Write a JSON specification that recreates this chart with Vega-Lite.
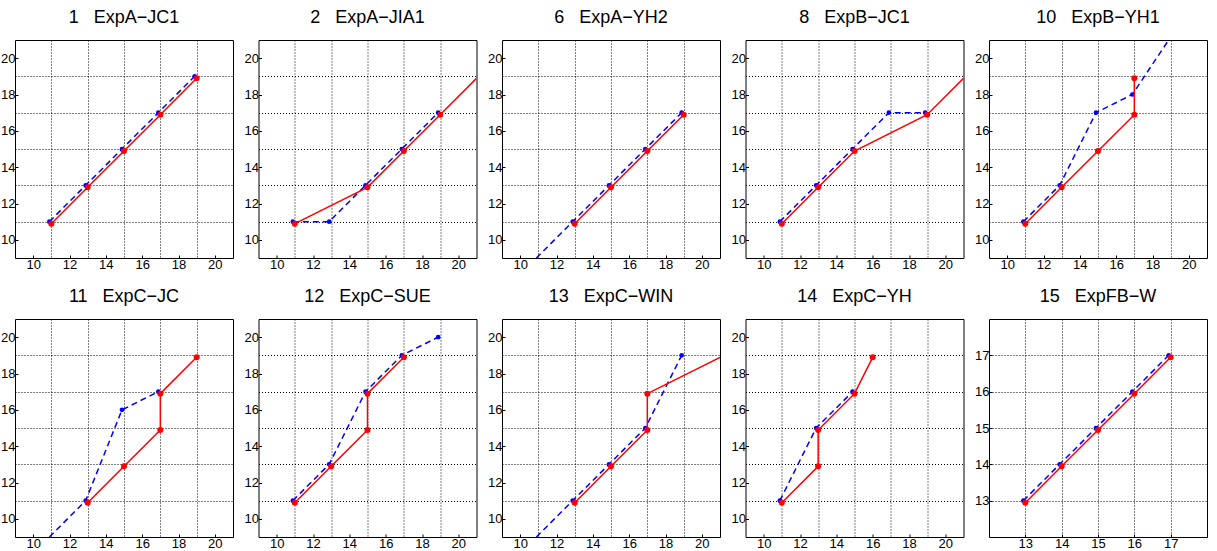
{
"$schema": "https://vega.github.io/schema/vega-lite/v6.json",
"padding": {"left": 0, "top": 8, "right": 0, "bottom": 0},
"background": "white",
"data": {"values": [
{"p":1,"s":"b","o":1,"x":11,"y":11,"m":1},{"p":1,"s":"b","o":2,"x":13,"y":13,"m":1},{"p":1,"s":"b","o":3,"x":15,"y":15,"m":1},{"p":1,"s":"b","o":4,"x":17,"y":17,"m":1},{"p":1,"s":"b","o":5,"x":19,"y":19,"m":1},
{"p":1,"s":"r","o":1,"x":11,"y":11,"m":1},{"p":1,"s":"r","o":2,"x":13,"y":13,"m":1},{"p":1,"s":"r","o":3,"x":15,"y":15,"m":1},{"p":1,"s":"r","o":4,"x":17,"y":17,"m":1},{"p":1,"s":"r","o":5,"x":19,"y":19,"m":1},
{"p":2,"s":"b","o":1,"x":11,"y":11,"m":1},{"p":2,"s":"b","o":2,"x":13,"y":11,"m":1},{"p":2,"s":"b","o":3,"x":15,"y":13,"m":1},{"p":2,"s":"b","o":4,"x":17,"y":15,"m":1},{"p":2,"s":"b","o":5,"x":19,"y":17,"m":1},
{"p":2,"s":"r","o":1,"x":11,"y":11,"m":1},{"p":2,"s":"r","o":2,"x":15,"y":13,"m":1},{"p":2,"s":"r","o":3,"x":17,"y":15,"m":1},{"p":2,"s":"r","o":4,"x":19,"y":17,"m":1},{"p":2,"s":"r","o":5,"x":21,"y":19,"m":0},
{"p":6,"s":"b","o":1,"x":11,"y":9,"m":0},{"p":6,"s":"b","o":2,"x":13,"y":11,"m":1},{"p":6,"s":"b","o":3,"x":15,"y":13,"m":1},{"p":6,"s":"b","o":4,"x":17,"y":15,"m":1},{"p":6,"s":"b","o":5,"x":19,"y":17,"m":1},
{"p":6,"s":"r","o":1,"x":13,"y":11,"m":1},{"p":6,"s":"r","o":2,"x":15,"y":13,"m":1},{"p":6,"s":"r","o":3,"x":17,"y":15,"m":1},{"p":6,"s":"r","o":4,"x":19,"y":17,"m":1},
{"p":8,"s":"b","o":1,"x":11,"y":11,"m":1},{"p":8,"s":"b","o":2,"x":13,"y":13,"m":1},{"p":8,"s":"b","o":3,"x":15,"y":15,"m":1},{"p":8,"s":"b","o":4,"x":17,"y":17,"m":1},{"p":8,"s":"b","o":5,"x":19,"y":17,"m":1},
{"p":8,"s":"r","o":1,"x":11,"y":11,"m":1},{"p":8,"s":"r","o":2,"x":13,"y":13,"m":1},{"p":8,"s":"r","o":3,"x":15,"y":15,"m":1},{"p":8,"s":"r","o":4,"x":19,"y":17,"m":1},{"p":8,"s":"r","o":5,"x":21,"y":19,"m":0},
{"p":10,"s":"b","o":1,"x":11,"y":11,"m":1},{"p":10,"s":"b","o":2,"x":13,"y":13,"m":1},{"p":10,"s":"b","o":3,"x":15,"y":17,"m":1},{"p":10,"s":"b","o":4,"x":17,"y":18,"m":1},{"p":10,"s":"b","o":5,"x":19,"y":21,"m":0},
{"p":10,"s":"r","o":1,"x":11,"y":11,"m":1},{"p":10,"s":"r","o":2,"x":13,"y":13,"m":1},{"p":10,"s":"r","o":3,"x":15,"y":15,"m":1},{"p":10,"s":"r","o":4,"x":17,"y":17,"m":1},{"p":10,"s":"r","o":5,"x":17,"y":19,"m":1},
{"p":11,"s":"b","o":1,"x":11,"y":9,"m":0},{"p":11,"s":"b","o":2,"x":13,"y":11,"m":1},{"p":11,"s":"b","o":3,"x":15,"y":16,"m":1},{"p":11,"s":"b","o":4,"x":17,"y":17,"m":1},
{"p":11,"s":"r","o":1,"x":13,"y":11,"m":1},{"p":11,"s":"r","o":2,"x":15,"y":13,"m":1},{"p":11,"s":"r","o":3,"x":17,"y":15,"m":1},{"p":11,"s":"r","o":4,"x":17,"y":17,"m":1},{"p":11,"s":"r","o":5,"x":19,"y":19,"m":1},
{"p":12,"s":"b","o":1,"x":11,"y":11,"m":1},{"p":12,"s":"b","o":2,"x":13,"y":13,"m":1},{"p":12,"s":"b","o":3,"x":15,"y":17,"m":1},{"p":12,"s":"b","o":4,"x":17,"y":19,"m":1},{"p":12,"s":"b","o":5,"x":19,"y":20,"m":1},
{"p":12,"s":"r","o":1,"x":11,"y":11,"m":1},{"p":12,"s":"r","o":2,"x":13,"y":13,"m":1},{"p":12,"s":"r","o":3,"x":15,"y":15,"m":1},{"p":12,"s":"r","o":4,"x":15,"y":17,"m":1},{"p":12,"s":"r","o":5,"x":17,"y":19,"m":1},
{"p":13,"s":"b","o":1,"x":11,"y":9,"m":0},{"p":13,"s":"b","o":2,"x":13,"y":11,"m":1},{"p":13,"s":"b","o":3,"x":15,"y":13,"m":1},{"p":13,"s":"b","o":4,"x":17,"y":15,"m":1},{"p":13,"s":"b","o":5,"x":19,"y":19,"m":1},
{"p":13,"s":"r","o":1,"x":13,"y":11,"m":1},{"p":13,"s":"r","o":2,"x":15,"y":13,"m":1},{"p":13,"s":"r","o":3,"x":17,"y":15,"m":1},{"p":13,"s":"r","o":4,"x":17,"y":17,"m":1},{"p":13,"s":"r","o":5,"x":21,"y":19,"m":0},
{"p":14,"s":"b","o":1,"x":11,"y":11,"m":1},{"p":14,"s":"b","o":2,"x":13,"y":15,"m":1},{"p":14,"s":"b","o":3,"x":15,"y":17,"m":1},
{"p":14,"s":"r","o":1,"x":11,"y":11,"m":1},{"p":14,"s":"r","o":2,"x":13,"y":13,"m":1},{"p":14,"s":"r","o":3,"x":13,"y":15,"m":1},{"p":14,"s":"r","o":4,"x":15,"y":17,"m":1},{"p":14,"s":"r","o":5,"x":16,"y":19,"m":1},
{"p":15,"s":"b","o":1,"x":13,"y":13,"m":1},{"p":15,"s":"b","o":2,"x":14,"y":14,"m":1},{"p":15,"s":"b","o":3,"x":15,"y":15,"m":1},{"p":15,"s":"b","o":4,"x":16,"y":16,"m":1},{"p":15,"s":"b","o":5,"x":17,"y":17,"m":1},
{"p":15,"s":"r","o":1,"x":13,"y":13,"m":1},{"p":15,"s":"r","o":2,"x":14,"y":14,"m":1},{"p":15,"s":"r","o":3,"x":15,"y":15,"m":1},{"p":15,"s":"r","o":4,"x":16,"y":16,"m":1},{"p":15,"s":"r","o":5,"x":17,"y":17,"m":1}
]},
"columns": 5,
"bounds": "flush",
"spacing": {"row": 61, "column": 25.5},
"concat": [
{"title":"1\u00a0\u00a0\u00a0ExpA−JC1","width":218,"height":218,"transform":[{"filter":"datum.p == 1"}],
 "encoding":{"x":{"field":"x","type":"quantitative","title":null,"scale":{"domain":[9,21],"nice":false,"zero":false},"axis":{"values":[10,11,12,13,14,15,16,17,18,19,20],"labelExpr":"datum.value % 2 == 0 ? datum.label : ''","gridOpacity":{"condition":{"test":"datum.value % 2 == 1","value":1},"value":0},"tickOpacity":{"condition":{"test":"datum.value % 2 == 0","value":1},"value":0}}},
  "y":{"field":"y","type":"quantitative","title":null,"scale":{"domain":[9,21],"nice":false,"zero":false},"axis":{"values":[10,11,12,13,14,15,16,17,18,19,20],"labelExpr":"datum.value % 2 == 0 ? datum.label : ''","gridOpacity":{"condition":{"test":"datum.value % 2 == 1","value":1},"value":0},"tickOpacity":{"condition":{"test":"datum.value % 2 == 0","value":1},"value":0}}},
  "order":{"field":"o","type":"quantitative"}},
 "layer":[
  {"transform":[{"filter":"datum.s == 'b'"}],"mark":{"type":"line","color":"#0000ff","strokeDash":[6,4],"strokeWidth":1.5,"xOffset":-2,"clip":true}},
  {"transform":[{"filter":"datum.s == 'b' && datum.m == 1"}],"mark":{"type":"circle","color":"#0000ff","size":22,"opacity":1,"xOffset":-2,"clip":true}},
  {"transform":[{"filter":"datum.s == 'r'"}],"mark":{"type":"line","color":"#ff0000","strokeWidth":1.5,"yOffset":2,"clip":true}},
  {"transform":[{"filter":"datum.s == 'r' && datum.m == 1"}],"mark":{"type":"circle","color":"#ff0000","size":36,"opacity":1,"yOffset":2,"clip":true}}]},
{"title":"2\u00a0\u00a0\u00a0ExpA−JIA1","width":218,"height":218,"transform":[{"filter":"datum.p == 2"}],
 "encoding":{"x":{"field":"x","type":"quantitative","title":null,"scale":{"domain":[9,21],"nice":false,"zero":false},"axis":{"values":[10,11,12,13,14,15,16,17,18,19,20],"labelExpr":"datum.value % 2 == 0 ? datum.label : ''","gridOpacity":{"condition":{"test":"datum.value % 2 == 1","value":1},"value":0},"tickOpacity":{"condition":{"test":"datum.value % 2 == 0","value":1},"value":0}}},
  "y":{"field":"y","type":"quantitative","title":null,"scale":{"domain":[9,21],"nice":false,"zero":false},"axis":{"values":[10,11,12,13,14,15,16,17,18,19,20],"labelExpr":"datum.value % 2 == 0 ? datum.label : ''","gridOpacity":{"condition":{"test":"datum.value % 2 == 1","value":1},"value":0},"tickOpacity":{"condition":{"test":"datum.value % 2 == 0","value":1},"value":0}}},
  "order":{"field":"o","type":"quantitative"}},
 "layer":[
  {"transform":[{"filter":"datum.s == 'b'"}],"mark":{"type":"line","color":"#0000ff","strokeDash":[6,4],"strokeWidth":1.5,"xOffset":-2,"clip":true}},
  {"transform":[{"filter":"datum.s == 'b' && datum.m == 1"}],"mark":{"type":"circle","color":"#0000ff","size":22,"opacity":1,"xOffset":-2,"clip":true}},
  {"transform":[{"filter":"datum.s == 'r'"}],"mark":{"type":"line","color":"#ff0000","strokeWidth":1.5,"yOffset":2,"clip":true}},
  {"transform":[{"filter":"datum.s == 'r' && datum.m == 1"}],"mark":{"type":"circle","color":"#ff0000","size":36,"opacity":1,"yOffset":2,"clip":true}}]},
{"title":"6\u00a0\u00a0\u00a0ExpA−YH2","width":218,"height":218,"transform":[{"filter":"datum.p == 6"}],
 "encoding":{"x":{"field":"x","type":"quantitative","title":null,"scale":{"domain":[9,21],"nice":false,"zero":false},"axis":{"values":[10,11,12,13,14,15,16,17,18,19,20],"labelExpr":"datum.value % 2 == 0 ? datum.label : ''","gridOpacity":{"condition":{"test":"datum.value % 2 == 1","value":1},"value":0},"tickOpacity":{"condition":{"test":"datum.value % 2 == 0","value":1},"value":0}}},
  "y":{"field":"y","type":"quantitative","title":null,"scale":{"domain":[9,21],"nice":false,"zero":false},"axis":{"values":[10,11,12,13,14,15,16,17,18,19,20],"labelExpr":"datum.value % 2 == 0 ? datum.label : ''","gridOpacity":{"condition":{"test":"datum.value % 2 == 1","value":1},"value":0},"tickOpacity":{"condition":{"test":"datum.value % 2 == 0","value":1},"value":0}}},
  "order":{"field":"o","type":"quantitative"}},
 "layer":[
  {"transform":[{"filter":"datum.s == 'b'"}],"mark":{"type":"line","color":"#0000ff","strokeDash":[6,4],"strokeWidth":1.5,"xOffset":-2,"clip":true}},
  {"transform":[{"filter":"datum.s == 'b' && datum.m == 1"}],"mark":{"type":"circle","color":"#0000ff","size":22,"opacity":1,"xOffset":-2,"clip":true}},
  {"transform":[{"filter":"datum.s == 'r'"}],"mark":{"type":"line","color":"#ff0000","strokeWidth":1.5,"yOffset":2,"clip":true}},
  {"transform":[{"filter":"datum.s == 'r' && datum.m == 1"}],"mark":{"type":"circle","color":"#ff0000","size":36,"opacity":1,"yOffset":2,"clip":true}}]},
{"title":"8\u00a0\u00a0\u00a0ExpB−JC1","width":218,"height":218,"transform":[{"filter":"datum.p == 8"}],
 "encoding":{"x":{"field":"x","type":"quantitative","title":null,"scale":{"domain":[9,21],"nice":false,"zero":false},"axis":{"values":[10,11,12,13,14,15,16,17,18,19,20],"labelExpr":"datum.value % 2 == 0 ? datum.label : ''","gridOpacity":{"condition":{"test":"datum.value % 2 == 1","value":1},"value":0},"tickOpacity":{"condition":{"test":"datum.value % 2 == 0","value":1},"value":0}}},
  "y":{"field":"y","type":"quantitative","title":null,"scale":{"domain":[9,21],"nice":false,"zero":false},"axis":{"values":[10,11,12,13,14,15,16,17,18,19,20],"labelExpr":"datum.value % 2 == 0 ? datum.label : ''","gridOpacity":{"condition":{"test":"datum.value % 2 == 1","value":1},"value":0},"tickOpacity":{"condition":{"test":"datum.value % 2 == 0","value":1},"value":0}}},
  "order":{"field":"o","type":"quantitative"}},
 "layer":[
  {"transform":[{"filter":"datum.s == 'b'"}],"mark":{"type":"line","color":"#0000ff","strokeDash":[6,4],"strokeWidth":1.5,"xOffset":-2,"clip":true}},
  {"transform":[{"filter":"datum.s == 'b' && datum.m == 1"}],"mark":{"type":"circle","color":"#0000ff","size":22,"opacity":1,"xOffset":-2,"clip":true}},
  {"transform":[{"filter":"datum.s == 'r'"}],"mark":{"type":"line","color":"#ff0000","strokeWidth":1.5,"yOffset":2,"clip":true}},
  {"transform":[{"filter":"datum.s == 'r' && datum.m == 1"}],"mark":{"type":"circle","color":"#ff0000","size":36,"opacity":1,"yOffset":2,"clip":true}}]},
{"title":"10\u00a0\u00a0\u00a0ExpB−YH1","width":218,"height":218,"transform":[{"filter":"datum.p == 10"}],
 "encoding":{"x":{"field":"x","type":"quantitative","title":null,"scale":{"domain":[9,21],"nice":false,"zero":false},"axis":{"values":[10,11,12,13,14,15,16,17,18,19,20],"labelExpr":"datum.value % 2 == 0 ? datum.label : ''","gridOpacity":{"condition":{"test":"datum.value % 2 == 1","value":1},"value":0},"tickOpacity":{"condition":{"test":"datum.value % 2 == 0","value":1},"value":0}}},
  "y":{"field":"y","type":"quantitative","title":null,"scale":{"domain":[9,21],"nice":false,"zero":false},"axis":{"values":[10,11,12,13,14,15,16,17,18,19,20],"labelExpr":"datum.value % 2 == 0 ? datum.label : ''","gridOpacity":{"condition":{"test":"datum.value % 2 == 1","value":1},"value":0},"tickOpacity":{"condition":{"test":"datum.value % 2 == 0","value":1},"value":0}}},
  "order":{"field":"o","type":"quantitative"}},
 "layer":[
  {"transform":[{"filter":"datum.s == 'b'"}],"mark":{"type":"line","color":"#0000ff","strokeDash":[6,4],"strokeWidth":1.5,"xOffset":-2,"clip":true}},
  {"transform":[{"filter":"datum.s == 'b' && datum.m == 1"}],"mark":{"type":"circle","color":"#0000ff","size":22,"opacity":1,"xOffset":-2,"clip":true}},
  {"transform":[{"filter":"datum.s == 'r'"}],"mark":{"type":"line","color":"#ff0000","strokeWidth":1.5,"yOffset":2,"clip":true}},
  {"transform":[{"filter":"datum.s == 'r' && datum.m == 1"}],"mark":{"type":"circle","color":"#ff0000","size":36,"opacity":1,"yOffset":2,"clip":true}}]},
{"title":"11\u00a0\u00a0\u00a0ExpC−JC","width":218,"height":218,"transform":[{"filter":"datum.p == 11"}],
 "encoding":{"x":{"field":"x","type":"quantitative","title":null,"scale":{"domain":[9,21],"nice":false,"zero":false},"axis":{"values":[10,11,12,13,14,15,16,17,18,19,20],"labelExpr":"datum.value % 2 == 0 ? datum.label : ''","gridOpacity":{"condition":{"test":"datum.value % 2 == 1","value":1},"value":0},"tickOpacity":{"condition":{"test":"datum.value % 2 == 0","value":1},"value":0}}},
  "y":{"field":"y","type":"quantitative","title":null,"scale":{"domain":[9,21],"nice":false,"zero":false},"axis":{"values":[10,11,12,13,14,15,16,17,18,19,20],"labelExpr":"datum.value % 2 == 0 ? datum.label : ''","gridOpacity":{"condition":{"test":"datum.value % 2 == 1","value":1},"value":0},"tickOpacity":{"condition":{"test":"datum.value % 2 == 0","value":1},"value":0}}},
  "order":{"field":"o","type":"quantitative"}},
 "layer":[
  {"transform":[{"filter":"datum.s == 'b'"}],"mark":{"type":"line","color":"#0000ff","strokeDash":[6,4],"strokeWidth":1.5,"xOffset":-2,"clip":true}},
  {"transform":[{"filter":"datum.s == 'b' && datum.m == 1"}],"mark":{"type":"circle","color":"#0000ff","size":22,"opacity":1,"xOffset":-2,"clip":true}},
  {"transform":[{"filter":"datum.s == 'r'"}],"mark":{"type":"line","color":"#ff0000","strokeWidth":1.5,"yOffset":2,"clip":true}},
  {"transform":[{"filter":"datum.s == 'r' && datum.m == 1"}],"mark":{"type":"circle","color":"#ff0000","size":36,"opacity":1,"yOffset":2,"clip":true}}]},
{"title":"12\u00a0\u00a0\u00a0ExpC−SUE","width":218,"height":218,"transform":[{"filter":"datum.p == 12"}],
 "encoding":{"x":{"field":"x","type":"quantitative","title":null,"scale":{"domain":[9,21],"nice":false,"zero":false},"axis":{"values":[10,11,12,13,14,15,16,17,18,19,20],"labelExpr":"datum.value % 2 == 0 ? datum.label : ''","gridOpacity":{"condition":{"test":"datum.value % 2 == 1","value":1},"value":0},"tickOpacity":{"condition":{"test":"datum.value % 2 == 0","value":1},"value":0}}},
  "y":{"field":"y","type":"quantitative","title":null,"scale":{"domain":[9,21],"nice":false,"zero":false},"axis":{"values":[10,11,12,13,14,15,16,17,18,19,20],"labelExpr":"datum.value % 2 == 0 ? datum.label : ''","gridOpacity":{"condition":{"test":"datum.value % 2 == 1","value":1},"value":0},"tickOpacity":{"condition":{"test":"datum.value % 2 == 0","value":1},"value":0}}},
  "order":{"field":"o","type":"quantitative"}},
 "layer":[
  {"transform":[{"filter":"datum.s == 'b'"}],"mark":{"type":"line","color":"#0000ff","strokeDash":[6,4],"strokeWidth":1.5,"xOffset":-2,"clip":true}},
  {"transform":[{"filter":"datum.s == 'b' && datum.m == 1"}],"mark":{"type":"circle","color":"#0000ff","size":22,"opacity":1,"xOffset":-2,"clip":true}},
  {"transform":[{"filter":"datum.s == 'r'"}],"mark":{"type":"line","color":"#ff0000","strokeWidth":1.5,"yOffset":2,"clip":true}},
  {"transform":[{"filter":"datum.s == 'r' && datum.m == 1"}],"mark":{"type":"circle","color":"#ff0000","size":36,"opacity":1,"yOffset":2,"clip":true}}]},
{"title":"13\u00a0\u00a0\u00a0ExpC−WIN","width":218,"height":218,"transform":[{"filter":"datum.p == 13"}],
 "encoding":{"x":{"field":"x","type":"quantitative","title":null,"scale":{"domain":[9,21],"nice":false,"zero":false},"axis":{"values":[10,11,12,13,14,15,16,17,18,19,20],"labelExpr":"datum.value % 2 == 0 ? datum.label : ''","gridOpacity":{"condition":{"test":"datum.value % 2 == 1","value":1},"value":0},"tickOpacity":{"condition":{"test":"datum.value % 2 == 0","value":1},"value":0}}},
  "y":{"field":"y","type":"quantitative","title":null,"scale":{"domain":[9,21],"nice":false,"zero":false},"axis":{"values":[10,11,12,13,14,15,16,17,18,19,20],"labelExpr":"datum.value % 2 == 0 ? datum.label : ''","gridOpacity":{"condition":{"test":"datum.value % 2 == 1","value":1},"value":0},"tickOpacity":{"condition":{"test":"datum.value % 2 == 0","value":1},"value":0}}},
  "order":{"field":"o","type":"quantitative"}},
 "layer":[
  {"transform":[{"filter":"datum.s == 'b'"}],"mark":{"type":"line","color":"#0000ff","strokeDash":[6,4],"strokeWidth":1.5,"xOffset":-2,"clip":true}},
  {"transform":[{"filter":"datum.s == 'b' && datum.m == 1"}],"mark":{"type":"circle","color":"#0000ff","size":22,"opacity":1,"xOffset":-2,"clip":true}},
  {"transform":[{"filter":"datum.s == 'r'"}],"mark":{"type":"line","color":"#ff0000","strokeWidth":1.5,"yOffset":2,"clip":true}},
  {"transform":[{"filter":"datum.s == 'r' && datum.m == 1"}],"mark":{"type":"circle","color":"#ff0000","size":36,"opacity":1,"yOffset":2,"clip":true}}]},
{"title":"14\u00a0\u00a0\u00a0ExpC−YH","width":218,"height":218,"transform":[{"filter":"datum.p == 14"}],
 "encoding":{"x":{"field":"x","type":"quantitative","title":null,"scale":{"domain":[9,21],"nice":false,"zero":false},"axis":{"values":[10,11,12,13,14,15,16,17,18,19,20],"labelExpr":"datum.value % 2 == 0 ? datum.label : ''","gridOpacity":{"condition":{"test":"datum.value % 2 == 1","value":1},"value":0},"tickOpacity":{"condition":{"test":"datum.value % 2 == 0","value":1},"value":0}}},
  "y":{"field":"y","type":"quantitative","title":null,"scale":{"domain":[9,21],"nice":false,"zero":false},"axis":{"values":[10,11,12,13,14,15,16,17,18,19,20],"labelExpr":"datum.value % 2 == 0 ? datum.label : ''","gridOpacity":{"condition":{"test":"datum.value % 2 == 1","value":1},"value":0},"tickOpacity":{"condition":{"test":"datum.value % 2 == 0","value":1},"value":0}}},
  "order":{"field":"o","type":"quantitative"}},
 "layer":[
  {"transform":[{"filter":"datum.s == 'b'"}],"mark":{"type":"line","color":"#0000ff","strokeDash":[6,4],"strokeWidth":1.5,"xOffset":-2,"clip":true}},
  {"transform":[{"filter":"datum.s == 'b' && datum.m == 1"}],"mark":{"type":"circle","color":"#0000ff","size":22,"opacity":1,"xOffset":-2,"clip":true}},
  {"transform":[{"filter":"datum.s == 'r'"}],"mark":{"type":"line","color":"#ff0000","strokeWidth":1.5,"yOffset":2,"clip":true}},
  {"transform":[{"filter":"datum.s == 'r' && datum.m == 1"}],"mark":{"type":"circle","color":"#ff0000","size":36,"opacity":1,"yOffset":2,"clip":true}}]},
{"title":"15\u00a0\u00a0\u00a0ExpFB−W","width":218,"height":218,"transform":[{"filter":"datum.p == 15"}],
 "encoding":{"x":{"field":"x","type":"quantitative","title":null,"scale":{"domain":[12,18],"nice":false,"zero":false},"axis":{"values":[13,14,15,16,17]}},
  "y":{"field":"y","type":"quantitative","title":null,"scale":{"domain":[12,18],"nice":false,"zero":false},"axis":{"values":[13,14,15,16,17]}},
  "order":{"field":"o","type":"quantitative"}},
 "layer":[
  {"transform":[{"filter":"datum.s == 'b'"}],"mark":{"type":"line","color":"#0000ff","strokeDash":[6,4],"strokeWidth":1.5,"xOffset":-2,"clip":true}},
  {"transform":[{"filter":"datum.s == 'b' && datum.m == 1"}],"mark":{"type":"circle","color":"#0000ff","size":22,"opacity":1,"xOffset":-2,"clip":true}},
  {"transform":[{"filter":"datum.s == 'r'"}],"mark":{"type":"line","color":"#ff0000","strokeWidth":1.5,"yOffset":2,"clip":true}},
  {"transform":[{"filter":"datum.s == 'r' && datum.m == 1"}],"mark":{"type":"circle","color":"#ff0000","size":36,"opacity":1,"yOffset":2,"clip":true}}]}
],
"config": {
 "view": {"stroke": "#000000", "strokeWidth": 1},
 "title": {"font": "Liberation Sans", "fontSize": 18, "fontWeight": "normal", "color": "#000000", "offset": 13},
 "axis": {"domain": false, "grid": true, "gridColor": "#000000", "gridDash": [1, 2], "gridWidth": 1, "labelFont": "Liberation Sans", "labelFontSize": 13, "labelColor": "#000000", "labelPadding": 3, "tickColor": "#000000", "tickSize": -3, "labelFlush": false, "labelOverlap": false}
}
}
